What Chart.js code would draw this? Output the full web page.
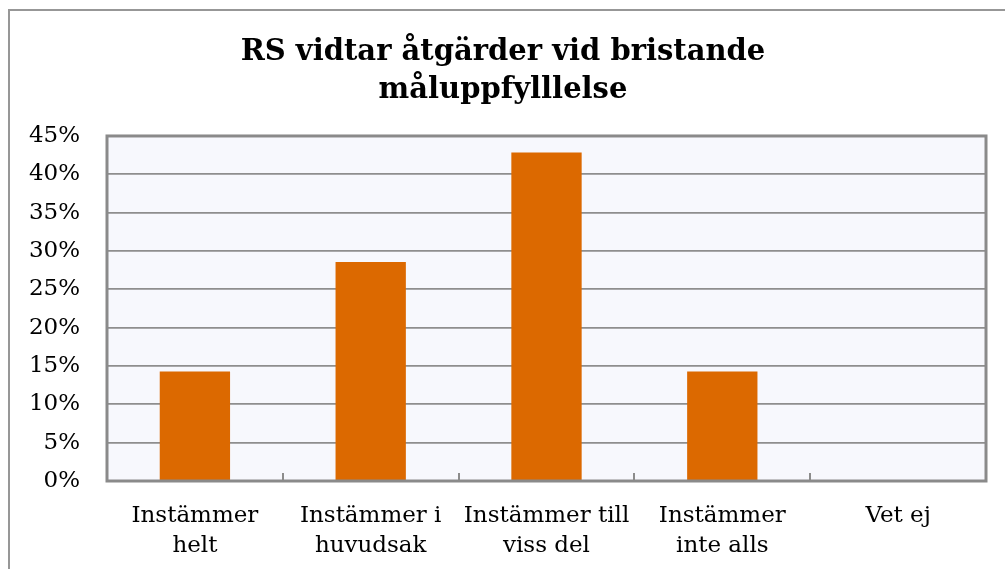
<!DOCTYPE html>
<html>
<head>
<meta charset="utf-8">
<script src="https://cdn.jsdelivr.net/npm/chart.js@4"></script>
<style>
  html, body { margin: 0; padding: 0; background: #fff; }
  #ram { position: absolute; left: 8px; top: 9px; width: 1100px; height: 700px; border: 2px solid #979797; }
  #wrap { position: absolute; left: 0; top: 0; width: 1005px; height: 569px; }
</style>
</head>
<body>
<div id="ram"></div>
<div id="wrap"><canvas id="stapel" width="1005" height="569"></canvas></div>
<script>
var kategorier = [['Instämmer', 'helt'], ['Instämmer i', 'huvudsak'], ['Instämmer till', 'viss del'], ['Instämmer', 'inte alls'], 'Vet ej'];
var andelar = [14.29, 28.57, 42.86, 14.29, 0];
var rubrik = ['RS vidtar åtgärder vid bristande', 'måluppfylllelse'];

var typsnitt = "'DejaVu Serif', Georgia, serif";

// bakgrund, ram och små streck i diagramytan
var ytaPlugin = {
    id: 'yta',
    beforeDraw: function (chart) {
        var a = chart.chartArea, c = chart.ctx;
        c.save();
        c.fillStyle = '#f7f8fd';
        c.fillRect(a.left, a.top, a.right - a.left, a.bottom - a.top);
        c.restore();
    },
    afterDatasetsDraw: function (chart) {
        var a = chart.chartArea, c = chart.ctx, x = chart.scales.x;
        c.save();
        c.strokeStyle = '#8c8c8c';
        c.lineWidth = 2;
        for (var i = 0; i < kategorier.length - 1; i++) {
            var px = Math.round((x.getPixelForValue(i) + x.getPixelForValue(i + 1)) / 2);
            c.beginPath();
            c.moveTo(px, a.bottom);
            c.lineTo(px, a.bottom - 8);
            c.stroke();
        }
        c.lineWidth = 3;
        c.strokeStyle = '#8a8a8a';
        c.strokeRect(a.left, a.top, a.right - a.left, a.bottom - a.top);
        c.restore();
    }
};

new Chart(document.getElementById('stapel').getContext('2d'), {
    type: 'bar',
    data: {
        labels: kategorier,
        datasets: [{
            data: andelar,
            backgroundColor: '#dc6900',
            borderWidth: 0,
            categoryPercentage: 1,
            barPercentage: 0.4
        }]
    },
    options: {
        responsive: false,
        animation: false,
        layout: { padding: { left: 20, right: 19, top: 0, bottom: 0 } },
        plugins: {
            legend: { display: false },
            tooltip: { enabled: false },
            title: {
                display: true,
                text: rubrik,
                color: '#000',
                font: { family: typsnitt, size: 29, weight: 'bold', lineHeight: 1.31 },
                padding: { top: 33, bottom: 27 }
            }
        },
        scales: {
            x: {
                grid: { display: false, drawTicks: false },
                border: { display: false },
                ticks: {
                    color: '#000',
                    font: { family: typsnitt, size: 23, lineHeight: 1.3 },
                    padding: 20,
                    maxRotation: 0,
                    autoSkip: false
                },
                afterFit: function (s) { s.height = 88; }
            },
            y: {
                min: 0,
                max: 45,
                grid: { color: '#8e8e8e', lineWidth: 1.8, drawTicks: false },
                border: { display: false },
                ticks: {
                    stepSize: 5,
                    color: '#000',
                    font: { family: typsnitt, size: 23 },
                    padding: 27,
                    callback: function (v) { return v + '%'; }
                },
                afterFit: function (s) { s.width = 87; }
            }
        }
    },
    plugins: [ytaPlugin]
});
</script>
</body>
</html>
